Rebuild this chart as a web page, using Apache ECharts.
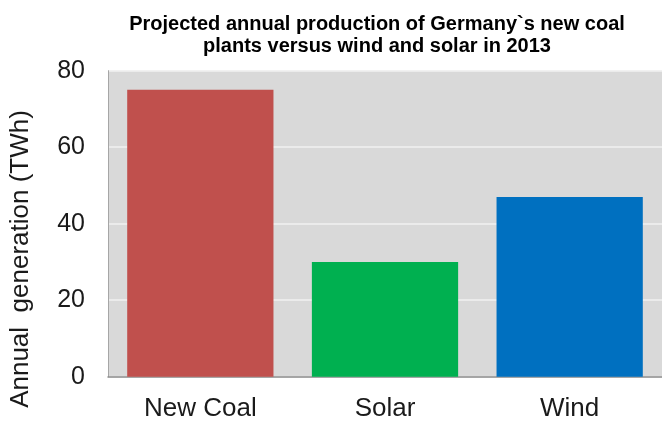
<!DOCTYPE html>
<html><head><meta charset="utf-8">
<script src="https://cdn.jsdelivr.net/npm/echarts@6/dist/echarts.min.js"></script>
<style>html,body{margin:0;padding:0;background:#fff}#c{width:662px;height:423px}</style>
</head><body><div id="c"></div>
<script>
var categories = ["New Coal", "Solar", "Wind"];
var values = [75, 30, 47];
var barColors = ["#c0504d", "#00b050", "#0070c0"];
var yTicks = [0, 20, 40, 60, 80];
var titleText = "Projected annual production of Germany`s new coal\nplants versus wind and solar in 2013";
var yName = "Annual  generation (TWh)";

var chart = echarts.init(document.getElementById('c'));
chart.setOption({
  animation: false,
  title: {
    text: titleText,
    left: 372, top: 8, textAlign: 'center',
    textStyle: {fontFamily: 'Liberation Sans', fontWeight: 'bold', fontSize: 20, lineHeight: 22, color: '#000'}
  },
  graphic: [{
    type: 'text', x: 21, y: 259, rotation: Math.PI / 2,
    style: {text: yName, fontFamily: 'Liberation Sans', fontSize: 26, fill: '#1a1a1a', align: 'center', verticalAlign: 'middle'}
  }],
  grid: {left: 108, right: -2, top: 70.7, bottom: 46.3, backgroundColor: '#d9d9d9', show: true, borderWidth: 0},
  xAxis: {
    type: 'category', data: categories,
    axisLine: {lineStyle: {color: '#8c8c8c', width: 1.5}},
    axisTick: {show: false},
    axisLabel: {fontFamily: 'Liberation Sans', fontSize: 26, color: '#1a1a1a', margin: 19}
  },
  yAxis: {
    type: 'value', min: yTicks[0], max: yTicks[yTicks.length-1], interval: 20,
    axisLine: {show: true, lineStyle: {color: '#a6a6a6', width: 1}},
    axisTick: {show: false},
    splitLine: {lineStyle: {color: '#f0f0f0', width: 1.5}},
    axisLabel: {fontFamily: 'Liberation Sans', fontSize: 25, color: '#1a1a1a', margin: 23}
  },
  series: [{
    type: 'bar', barCategoryGap: '20.8%',
    data: values.map(function(v, i){ return {value: v, itemStyle: {color: barColors[i]}}; })
  }]
});
</script></body></html>
